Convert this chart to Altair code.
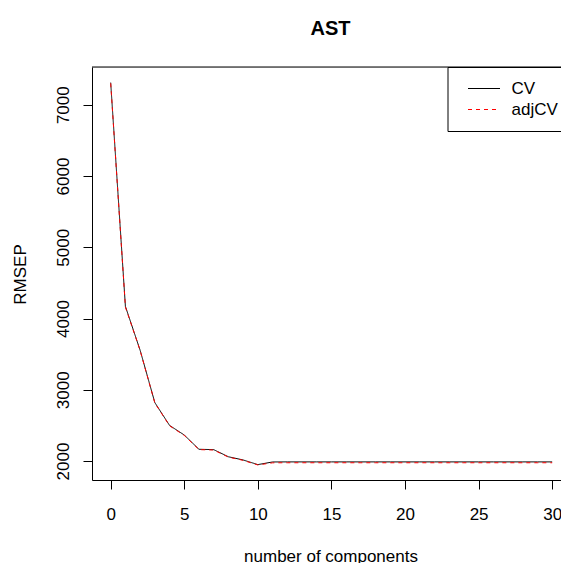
import altair as alt
import pandas as pd

components = list(range(31))
series_names = ["CV", "adjCV"]
cv = [7310, 4170, 3555, 2820, 2500, 2365, 2165, 2160, 2060, 2015, 1950,
      1987, 1988, 1988, 1988, 1988, 1988, 1988, 1988, 1988, 1988,
      1988, 1988, 1988, 1988, 1988, 1988, 1988, 1988, 1988, 1988]
adjcv = [7300, 4160, 3550, 2815, 2495, 2360, 2160, 2155, 2055, 2010, 1945,
         1975, 1976, 1976, 1976, 1976, 1976, 1976, 1976, 1976, 1976,
         1976, 1976, 1976, 1976, 1976, 1976, 1976, 1976, 1976, 1976]
x_ticks = [0, 5, 10, 15, 20, 25, 30]
y_ticks = [2000, 3000, 4000, 5000, 6000, 7000]

rows = []
for name, vals in zip(series_names, [cv, adjcv]):
    for c, v in zip(components, vals):
        rows.append({"ncomp": c, "rmsep": v, "series": name})
df = pd.DataFrame(rows)

FONT = "Liberation Sans"
W, H = 469, 413

legend = alt.Legend(
    title=None, orient="none", legendX=355.5, legendY=0,
    strokeColor="black", fillColor="white", padding=13, cornerRadius=0,
    symbolType="M-4,0H4", symbolSize=64, symbolStrokeWidth=1,
    symbolOffset=15, labelOffset=19,
    labelFont=FONT, labelFontSize=17, labelColor="black", rowPadding=3,
)

lines = alt.Chart(df).mark_line(strokeWidth=1).encode(
    x=alt.X("ncomp:Q",
            scale=alt.Scale(domain=[-1.27, 30.6], nice=False, zero=False),
            axis=alt.Axis(values=x_ticks, title="number of components",
                          grid=False, domainColor="black", tickColor="black",
                          tickSize=9, labelPadding=30, labelBaseline="alphabetic",
                          labelFont=FONT, labelFontSize=17, labelColor="black",
                          titleFont=FONT, titleFontSize=17, titleFontWeight="normal",
                          titleColor="black", titleX=238.5, titleY=81,
                          titleAlign="center", titleBaseline="alphabetic")),
    y=alt.Y("rmsep:Q",
            scale=alt.Scale(domain=[1734, 7529], nice=False, zero=False),
            axis=alt.Axis(values=y_ticks, format="d", title="RMSEP", grid=False,
                          domainColor="black", tickColor="black", tickSize=9,
                          labelAngle=270, labelAlign="center",
                          labelBaseline="alphabetic", labelPadding=14.4,
                          labelFont=FONT, labelFontSize=17, labelColor="black",
                          titleFont=FONT, titleFontSize=17, titleFontWeight="normal",
                          titleColor="black", titleAngle=270, titleX=-66.5,
                          titleY=207, titleAlign="center",
                          titleBaseline="alphabetic")),
    color=alt.Color("series:N", scale=alt.Scale(domain=series_names, range=["black", "red"]),
                    legend=legend),
    strokeDash=alt.StrokeDash("series:N",
                              scale=alt.Scale(domain=series_names, range=[[1, 0], [4, 4]]),
                              legend=legend),
)

top_border = alt.Chart(pd.DataFrame({"k": [0]})).mark_rule(color="black", strokeWidth=1).encode(
    x=alt.value(0), x2=alt.value(W), y=alt.value(0)
)

chart = alt.layer(top_border, lines).properties(
    width=W, height=H,
    title=alt.TitleParams(text="AST", fontSize=20, fontWeight="bold", font=FONT,
                          color="black", anchor="middle", frame="group",
                          baseline="alphabetic", offset=12, dx=4),
    autosize=alt.AutoSizeParams(type="none"),
    padding={"left": 92, "top": 67, "right": 0, "bottom": 83},
).configure_view(strokeWidth=0).configure(background="white")

chart.save("out.html", embed_options={"renderer": "svg", "actions": False})
